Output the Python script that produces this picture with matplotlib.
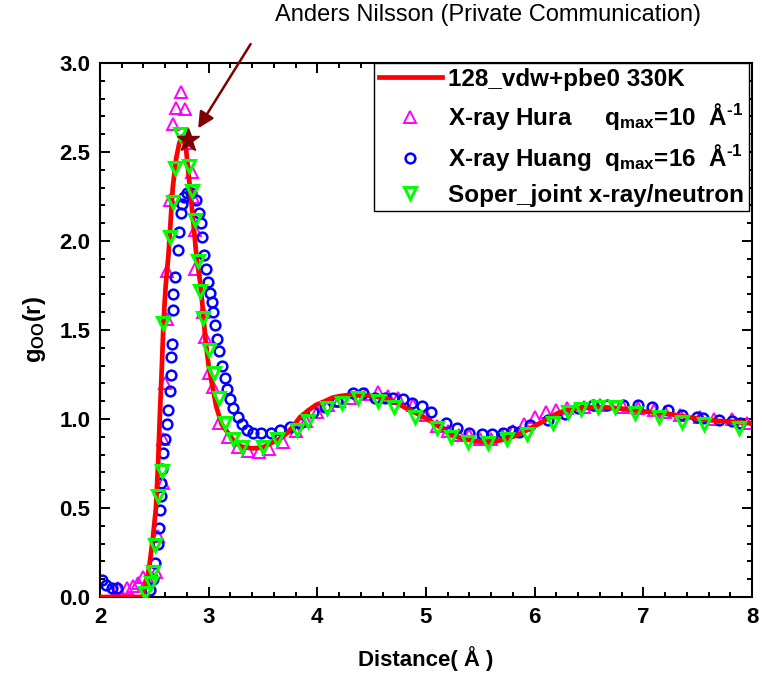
import matplotlib
matplotlib.use("Agg")
import matplotlib.pyplot as plt
from matplotlib.ticker import MultipleLocator, FormatStrFormatter

plt.rcParams['font.family'] = ['Liberation Sans', 'DejaVu Sans']
plt.rcParams['font.weight'] = 'bold'
plt.rcParams['mathtext.fontset'] = 'custom'
plt.rcParams['mathtext.rm'] = 'Liberation Sans:bold'
plt.rcParams['mathtext.it'] = 'Liberation Sans:bold'
plt.rcParams['mathtext.bf'] = 'Liberation Sans:bold'
plt.rcParams['mathtext.default'] = 'rm'

# simulation 128_vdw+pbe0 330K
sim_r = [2.00, 2.39, 2.41, 2.44, 2.46, 2.49, 2.515, 2.535, 2.55, 2.57, 2.585, 2.605,
         2.63, 2.67, 2.70, 2.73, 2.76, 2.79, 2.82, 2.86, 2.89, 2.92, 2.94, 2.97,
         3.00, 3.03, 3.07, 3.12, 3.18, 3.24, 3.30, 3.40, 3.50, 3.59, 3.66, 3.72,
         3.78, 3.84, 3.92, 3.99, 4.07, 4.14, 4.22, 4.30, 4.40, 4.50, 4.64, 4.73,
         4.82, 4.92, 5.01, 5.10, 5.19, 5.28, 5.37, 5.46, 5.55, 5.64, 5.72, 5.80,
         5.89, 5.98, 6.06, 6.14, 6.22, 6.30, 6.40, 6.51, 6.66, 6.78, 6.90, 7.05,
         7.22, 7.37, 7.52, 7.67, 7.82, 8.00]
sim_g = [0.0, 0.0, 0.05, 0.12, 0.20, 0.35, 0.50, 0.75, 1.00, 1.30, 1.55, 1.75,
         1.92, 2.30, 2.46, 2.55, 2.59, 2.53, 2.35, 2.10, 1.90, 1.78, 1.66, 1.45,
         1.30, 1.20, 1.07, 0.97, 0.92, 0.87, 0.845, 0.835, 0.84, 0.87, 0.89, 0.92,
         0.96, 1.01, 1.05, 1.08, 1.10, 1.12, 1.13, 1.135, 1.135, 1.13, 1.115, 1.09,
         1.06, 1.03, 1.00, 0.965, 0.93, 0.90, 0.885, 0.875, 0.87, 0.875, 0.885, 0.90,
         0.925, 0.955, 0.98, 1.01, 1.035, 1.05, 1.06, 1.065, 1.065, 1.06, 1.05, 1.04,
         1.03, 1.015, 1.00, 0.99, 0.985, 0.975]

# X-ray Hura
hura_r = [2.17, 2.25, 2.30, 2.35, 2.40, 2.44, 2.52, 2.53, 2.58, 2.58, 2.60, 2.62,
          2.62, 2.64, 2.67, 2.70, 2.75, 2.78, 2.81, 2.85, 2.86, 2.87, 2.87, 2.95,
          2.97, 3.00, 3.04, 3.10, 3.18, 3.27, 3.36, 3.46, 3.56, 3.68, 3.80, 3.90,
          4.00, 4.10, 4.20, 4.30, 4.45, 4.56, 4.65, 4.74, 4.88, 5.00, 5.10, 5.20,
          5.30, 5.40, 5.50, 5.60, 5.70, 5.80, 5.90, 6.00, 6.10, 6.20, 6.30, 6.45,
          6.60, 6.81, 6.95, 7.10, 7.20, 7.34, 7.52, 7.65, 7.82, 7.95]
hura_g = [0.05, 0.05, 0.06, 0.08, 0.11, 0.10, 0.14, 0.34, 0.64, 0.89, 1.20, 1.56,
          1.83, 2.23, 2.66, 2.75, 2.84, 2.74, 2.55, 2.39, 2.25, 2.06, 1.84, 1.60,
          1.46, 1.26, 1.18, 0.98, 0.90, 0.84, 0.82, 0.815, 0.83, 0.87, 0.93, 0.99,
          1.04, 1.08, 1.10, 1.12, 1.14, 1.15, 1.13, 1.12, 1.08, 1.02, 0.96, 0.93,
          0.91, 0.91, 0.89, 0.89, 0.91, 0.93, 0.97, 1.01, 1.04, 1.05, 1.06, 1.07,
          1.08, 1.07, 1.06, 1.05, 1.04, 1.02, 1.01, 1.00, 1.00, 0.98]

# X-ray Huang
huang_r = [2.02, 2.06, 2.11, 2.16, 2.46, 2.49, 2.51, 2.53, 2.54, 2.55, 2.56, 2.565,
           2.57, 2.58, 2.60, 2.62, 2.63, 2.64, 2.65, 2.655, 2.66, 2.67, 2.675, 2.69,
           2.72, 2.73, 2.75, 2.755, 2.77, 2.80, 2.84, 2.88, 2.91, 2.93, 2.94, 2.96,
           2.98, 2.99, 3.01, 3.03, 3.04, 3.06, 3.08, 3.10, 3.12, 3.15, 3.17, 3.20,
           3.22, 3.27, 3.31, 3.35, 3.41, 3.48, 3.57, 3.66, 3.75, 3.84, 3.96, 4.07,
           4.18, 4.33, 4.42, 4.53, 4.62, 4.70, 4.79, 4.87, 4.96, 5.05, 5.18, 5.29,
           5.40, 5.52, 5.61, 5.71, 5.79, 5.86, 5.96, 6.12, 6.28, 6.40, 6.54, 6.67,
           6.81, 6.95, 7.08, 7.23, 7.36, 7.49, 7.55, 7.70, 7.82, 7.89]
huang_g = [0.095, 0.07, 0.05, 0.05, 0.04, 0.10, 0.19, 0.30, 0.39, 0.49, 0.57, 0.64,
           0.72, 0.81, 0.89, 0.97, 1.05, 1.16, 1.25, 1.35, 1.42, 1.61, 1.70, 1.80,
           1.95, 2.05, 2.16, 2.21, 2.25, 2.27, 2.27, 2.23, 2.16, 2.10, 2.02, 1.92,
           1.84, 1.77, 1.71, 1.66, 1.60, 1.53, 1.45, 1.38, 1.30, 1.23, 1.17, 1.11,
           1.06, 1.01, 0.97, 0.94, 0.92, 0.92, 0.92, 0.94, 0.955, 0.98, 1.04, 1.07,
           1.10, 1.145, 1.145, 1.12, 1.12, 1.12, 1.11, 1.09, 1.075, 1.04, 0.98, 0.95,
           0.92, 0.915, 0.915, 0.92, 0.93, 0.925, 0.965, 0.995, 1.03, 1.06, 1.08, 1.08,
           1.08, 1.08, 1.07, 1.05, 1.02, 1.01, 1.005, 0.995, 0.99, 0.98]

# Soper joint x-ray/neutron
soper_r = [2.41, 2.47, 2.49, 2.51, 2.53, 2.57, 2.58, 2.64, 2.67, 2.69, 2.74, 2.82,
           2.85, 2.87, 2.90, 2.92, 2.95, 3.00, 3.05, 3.10, 3.15, 3.22, 3.31, 3.50,
           3.63, 3.81, 3.91, 4.09, 4.23, 4.37, 4.56, 4.71, 4.90, 5.10, 5.23, 5.39,
           5.57, 5.75, 5.93, 6.17, 6.31, 6.43, 6.58, 6.74, 6.92, 7.14, 7.36, 7.56, 7.88]
soper_g = [0.02, 0.08, 0.14, 0.29, 0.57, 0.71, 1.54, 2.02, 2.22, 2.41, 2.60, 2.42,
           2.28, 2.12, 1.89, 1.72, 1.57, 1.39, 1.26, 1.12, 0.98, 0.89, 0.84, 0.84,
           0.89, 0.94, 0.99, 1.06, 1.09, 1.12, 1.10, 1.07, 1.01, 0.95, 0.90, 0.87,
           0.865, 0.885, 0.915, 0.98, 1.04, 1.055, 1.065, 1.07, 1.035, 1.01, 0.985, 0.97, 0.95]

labels = ['128_vdw+pbe0 330K',
          'X-ray Hura     q$_{max}$=10  Å$^{\u2010 1}$',
          'X-ray Huang  q$_{max}$=16  Å$^{\u2010 1}$',
          'Soper_joint x-ray/neutron']

fig = plt.figure(figsize=(7.63, 6.75), dpi=100)
ax = fig.add_axes([0.131, 0.1156, 0.8546, 0.791])

ax.plot(sim_r, sim_g, color='#ff0000', lw=3.4, zorder=3, label=labels[0])
ax.plot(hura_r, hura_g, ls='none', marker='^', ms=8.5, mfc='none', mec='#ff00ff',
        mew=1.4, zorder=2, label=labels[1])
ax.plot(huang_r, huang_g, ls='none', marker='o', ms=7, mfc='none', mec='#0000ff',
        mew=1.8, zorder=2, label=labels[2])
ax.plot(soper_r, soper_g, ls='none', marker='v', ms=8.5, mfc='none', mec='#00ff00',
        mew=2.2, zorder=4, label=labels[3])

# arrow + star marking the first peak
ax.plot([2.81], [2.57], marker='*', ms=17, color='#800000', zorder=6)
ax.annotate('', xy=(2.89, 2.62), xytext=(3.40, 3.12),
            arrowprops=dict(arrowstyle='-|>', color='#800000', lw=1.8,
                            mutation_scale=24),
            annotation_clip=False, zorder=7)
fig.text(0.64, 0.978, 'Anders Nilsson (Private Communication)', ha='center',
         va='center', fontsize=17, fontweight='normal')

ax.set_xlim(2, 8)
ax.set_ylim(0, 3)
ax.xaxis.set_major_locator(MultipleLocator(1))
ax.xaxis.set_minor_locator(MultipleLocator(0.2))
ax.yaxis.set_major_locator(MultipleLocator(0.5))
ax.yaxis.set_minor_locator(MultipleLocator(0.1))
ax.yaxis.set_major_formatter(FormatStrFormatter('%.1f'))
ax.tick_params(which='both', direction='in', top=True, right=True, width=1.4,
               labelsize=16)
ax.tick_params(which='major', length=7, pad=7)
ax.tick_params(which='minor', length=3.5)
for s in ax.spines.values():
    s.set_linewidth(1.5)

ax.set_xlabel('Distance( Å )', fontsize=16, fontweight='bold', labelpad=13)
ax.set_ylabel('g$_{OO}$(r)', fontsize=17, fontweight='bold', labelpad=8)

leg = ax.legend(loc='upper right', bbox_to_anchor=(0.995, 1.0), borderaxespad=0,
                fontsize=17.5, handlelength=2.6, handletextpad=0.25, labelspacing=0.42,
                borderpad=0.2, numpoints=1, fancybox=False, framealpha=1)
leg.get_frame().set_edgecolor('black')
leg.get_frame().set_linewidth(1.0)

fig.savefig('out.png', dpi=100)
